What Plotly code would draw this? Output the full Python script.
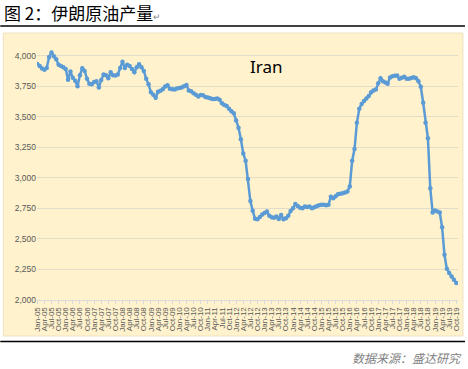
import plotly.graph_objects as go

# ---- data (thousand barrels/day), monthly Jan-05 .. Oct-19 ----
month_names = ["Jan", "Feb", "Mar", "Apr", "May", "Jun", "Jul", "Aug", "Sep", "Oct", "Nov", "Dec"]
years = list(range(2005, 2020))
months = [f"{m}-{str(y)[2:]}" for y in years for m in month_names][:178]

production = [
    3932, 3915, 3895, 3885, 3900, 3990, 4025, 3995, 3970, 3925, 3915, 3905,
    3890, 3802, 3870, 3820, 3795, 3750, 3840, 3897, 3875, 3810, 3770, 3766,
    3785, 3790, 3740, 3800, 3845, 3840, 3815, 3864, 3840, 3838, 3845, 3900,
    3950, 3900, 3925, 3915, 3890, 3864, 3905, 3930, 3905, 3875, 3810, 3765,
    3700, 3680, 3655, 3705, 3712, 3725, 3747, 3758, 3730, 3726, 3724, 3732,
    3736, 3740, 3750, 3760, 3715, 3708, 3693, 3680, 3666, 3677, 3676, 3662,
    3658, 3652, 3646, 3645, 3650, 3640, 3610, 3596, 3588, 3565, 3545, 3528,
    3470, 3410, 3315, 3200, 3140, 2990, 2810, 2730, 2665, 2660, 2680, 2700,
    2712, 2724, 2690, 2678, 2674, 2683, 2664, 2695, 2660, 2670, 2690, 2728,
    2750, 2785, 2770, 2755, 2752, 2765, 2762, 2765, 2752, 2760, 2768, 2775,
    2779, 2779, 2775, 2780, 2845, 2833, 2850, 2865, 2870, 2873, 2880, 2888,
    2930, 3140, 3235, 3450, 3565, 3605, 3628, 3650, 3670, 3700, 3715, 3722,
    3775, 3815, 3790, 3780, 3770, 3822, 3832, 3836, 3838, 3810, 3820, 3828,
    3812, 3812, 3818, 3823, 3815, 3790, 3745, 3615, 3450, 3325, 2915, 2716,
    2732, 2724, 2716, 2595, 2370, 2255, 2220, 2192, 2165, 2140,
]

y_ticks = [2000, 2250, 2500, 2750, 3000, 3250, 3500, 3750, 4000]
y_ticktext = [f"{v:,}" for v in y_ticks]
x_tick_idx = list(range(0, len(months), 3))
x_ticktext = [months[i] for i in x_tick_idx]

title_text = "图 2：伊朗原油产量"
series_label = "Iran"
source_text = "数据来源：盛达研究"

# ---- layout geometry (px) ----
W, H = 468, 369
L, R, T, B = 37, 7, 41, 69
PW, PH = W - L - R, H - T - B


def px(xpix):
    return (xpix - L) / PW


def py(ypix):
    return (H - B - ypix) / PH


fig = go.Figure()
fig.add_trace(go.Scatter(
    x=list(range(len(months))),
    y=production,
    mode="lines+markers",
    line=dict(color="#5B9BD5", width=2.5),
    marker=dict(color="#5B9BD5", size=4.5),
    hoverinfo="skip",
    showlegend=False,
))

shapes = [
    # cream chart box
    dict(type="rect", xref="paper", yref="paper",
         x0=px(3), x1=px(466), y0=py(336), y1=py(33),
         fillcolor="#FFF2CC", line=dict(color="#EDE2C2", width=1), layer="below"),
    # rule under title
    dict(type="line", xref="paper", yref="paper",
         x0=px(0), x1=px(468), y0=py(26), y1=py(26),
         line=dict(color="#000000", width=1.5)),
    # rule above source
    dict(type="line", xref="paper", yref="paper",
         x0=px(0), x1=px(468), y0=py(341.5), y1=py(341.5),
         line=dict(color="#000000", width=1.5)),
]

annotations = [
    dict(text=title_text + "<span style='font-size:9px;color:#8a8a8a'>↵</span>",
         xref="paper", yref="paper", x=px(2), y=py(12),
         xanchor="left", yanchor="middle", showarrow=False,
         font=dict(family="Noto Sans CJK SC", size=17, color="#000000")),
    dict(text=series_label, xref="paper", yref="paper", x=px(268), y=py(66),
         xanchor="center", yanchor="middle", showarrow=False,
         font=dict(family="Noto Sans", size=17, color="#000000")),
    dict(text="<i>" + source_text + "</i>", xref="paper", yref="paper", x=px(467), y=py(357),
         xanchor="right", yanchor="middle", showarrow=False,
         font=dict(family="Noto Sans CJK SC", size=12, color="#7F7F7F"),
         ),
]

fig.update_layout(
    width=W, height=H,
    margin=dict(l=L, r=R, t=T, b=B),
    paper_bgcolor="#FFFFFF",
    plot_bgcolor="rgba(0,0,0,0)",
    shapes=shapes,
    annotations=annotations,
    xaxis=dict(
        range=[-0.126, 177.71],
        tickmode="array", tickvals=x_tick_idx, ticktext=x_ticktext,
        tickangle=-90,
        tickfont=dict(family="Liberation Sans", size=8, color="#595959"),
        showgrid=False, zeroline=False,
        showline=True, linecolor="#D9D9D9", linewidth=1,
        ticks="outside", ticklen=3, tickcolor="#D9D9D9",
    ),
    yaxis=dict(
        range=[2000, 4120],
        tickmode="array", tickvals=y_ticks, ticktext=y_ticktext,
        tickfont=dict(family="Liberation Sans", size=8.5, color="#595959"),
        showgrid=True, gridcolor="#E3DCC8", gridwidth=1,
        zeroline=False, showline=False, ticks="",
    ),
)

fig.write_html("out.html")
